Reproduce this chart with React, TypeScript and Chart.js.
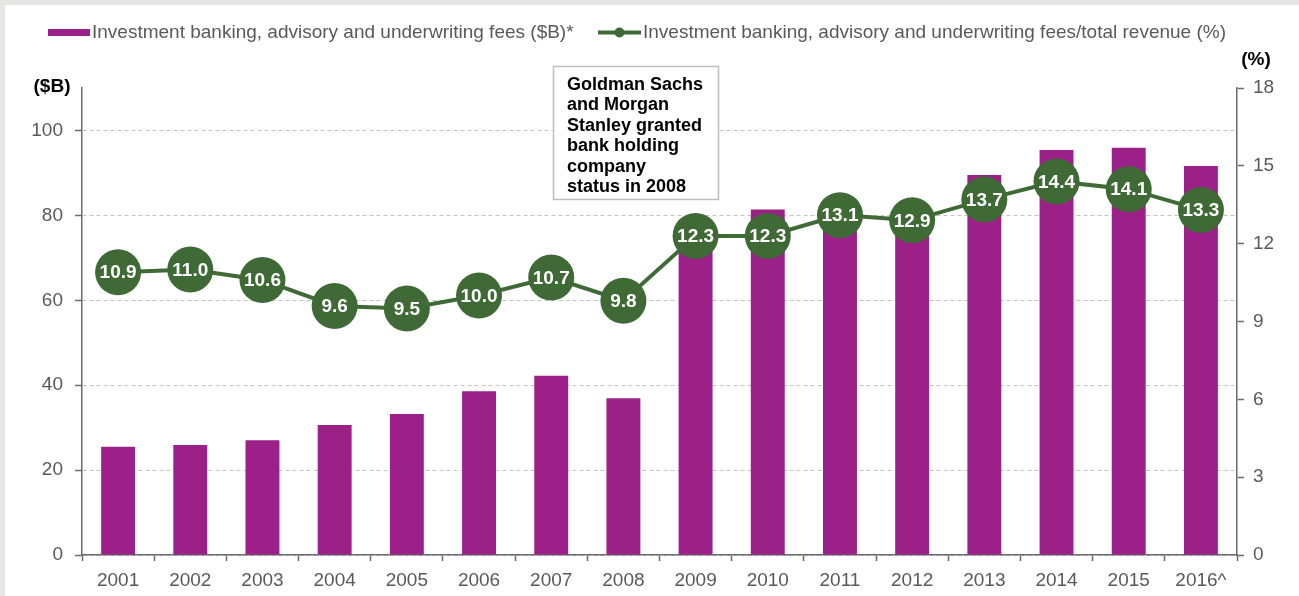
import React, { useEffect, useRef } from "react";
import { Chart, registerables } from "chart.js";

Chart.register(...registerables);

const years = ["2001", "2002", "2003", "2004", "2005", "2006", "2007", "2008", "2009", "2010", "2011", "2012", "2013", "2014", "2015", "2016^"];
const feesBn = [25.5, 25.9, 27.0, 30.6, 33.2, 38.6, 42.2, 36.9, 78.8, 81.4, 80.0, 78.5, 89.5, 95.4, 95.9, 91.6];
const feeSharePct = [10.9, 11.0, 10.6, 9.6, 9.5, 10.0, 10.7, 9.8, 12.3, 12.3, 13.1, 12.9, 13.7, 14.4, 14.1, 13.3];
const leftAxisMax = 110;
const leftTickStep = 20;
const leftTickTop = 100;
const rightAxisMax = 18;
const rightTickStep = 3;
const barLegend = "Investment banking, advisory and underwriting fees ($B)*";
const lineLegend = "Investment banking, advisory and underwriting fees/total revenue (%)";
const leftAxisTitle = "($B)";
const rightAxisTitle = "(%)";
const noteLines = ["Goldman Sachs", "and Morgan", "Stanley granted", "bank holding", "company", "status in 2008"];

const FONT = "'Liberation Sans', Arial, Helvetica, sans-serif";
const PURPLE = "#9b2188";
const GREEN = "#3f6a35";
const GREY_TEXT = "#595959";
const AXIS = "#6b6b6b";
const PAGE_BG = "#e4e6e4";

const decorPlugin = {
  id: "decor",
  beforeDraw(chart: any) {
    const { ctx, width, height } = chart;
    ctx.save();
    ctx.fillStyle = PAGE_BG;
    ctx.fillRect(0, 0, width, height);
    ctx.fillStyle = "#ffffff";
    ctx.fillRect(5, 5, width - 5, height - 5);
    ctx.restore();
  },
  afterDatasetsDraw(chart: any) {
    const { ctx } = chart;
    const meta = chart.getDatasetMeta(1);
    ctx.save();
    ctx.fillStyle = "#ffffff";
    ctx.font = `bold 19px ${FONT}`;
    ctx.textAlign = "center";
    ctx.textBaseline = "middle";
    meta.data.forEach((pt: any, i: number) => {
      ctx.fillText(feeSharePct[i].toFixed(1), pt.x, pt.y + 1);
    });
    ctx.restore();
  },
  afterDraw(chart: any) {
    const { ctx } = chart;
    ctx.save();
    // legend
    ctx.fillStyle = PURPLE;
    ctx.fillRect(48, 29, 42, 7);
    ctx.fillStyle = GREY_TEXT;
    ctx.font = `19px ${FONT}`;
    ctx.textAlign = "left";
    ctx.textBaseline = "middle";
    ctx.fillText(barLegend, 92, 33);
    ctx.strokeStyle = GREEN;
    ctx.lineWidth = 4;
    ctx.beginPath();
    ctx.moveTo(598, 32.5);
    ctx.lineTo(641, 32.5);
    ctx.stroke();
    ctx.fillStyle = GREEN;
    ctx.beginPath();
    ctx.arc(619.5, 32.5, 5, 0, Math.PI * 2);
    ctx.fill();
    ctx.fillStyle = GREY_TEXT;
    ctx.fillText(lineLegend, 643, 33);

    // axis titles
    ctx.fillStyle = "#000000";
    ctx.font = `bold 19px ${FONT}`;
    ctx.textAlign = "center";
    ctx.fillText(leftAxisTitle, 52, 87);
    ctx.fillText(rightAxisTitle, 1256, 60);

    // note box
    ctx.fillStyle = "#ffffff";
    ctx.fillRect(553, 66, 165, 133);
    ctx.strokeStyle = "#bfbfbf";
    ctx.lineWidth = 1.5;
    ctx.strokeRect(553.5, 66.5, 165, 133);
    ctx.fillStyle = "#000000";
    ctx.font = `bold 18px ${FONT}`;
    ctx.textAlign = "left";
    noteLines.forEach((line, i) => {
      ctx.fillText(line, 567, 85 + i * 20.4);
    });
    ctx.restore();
  },
};

export default function App() {
  const canvasRef = useRef<HTMLCanvasElement | null>(null);

  useEffect(() => {
    const canvas = canvasRef.current;
    if (!canvas) return;
    const tickFont = { family: FONT, size: 19 };
    const chart = new Chart(canvas, {
      type: "bar",
      data: {
        labels: years,
        datasets: [
          {
            type: "bar",
            label: barLegend,
            data: feesBn,
            backgroundColor: PURPLE,
            barPercentage: 0.47,
            categoryPercentage: 1,
            yAxisID: "y",
            order: 1,
          } as any,
          {
            type: "line",
            label: lineLegend,
            data: feeSharePct,
            borderColor: GREEN,
            borderWidth: 4,
            backgroundColor: GREEN,
            pointRadius: 23,
            pointHoverRadius: 23,
            pointBackgroundColor: GREEN,
            pointBorderWidth: 0,
            tension: 0,
            yAxisID: "y1",
            order: 0,
          } as any,
        ],
      },
      options: {
        responsive: false,
        animation: false,
        devicePixelRatio: 1,
        layout: { padding: { top: 88, left: 0, right: 0, bottom: 0 } },
        plugins: {
          legend: { display: false },
          tooltip: { enabled: false },
        },
        scales: {
          x: {
            offset: true,
            grid: {
              offset: true,
              drawOnChartArea: false,
              tickLength: 6,
              tickColor: AXIS,
              tickWidth: 1.5,
            },
            border: { color: AXIS, width: 1.5 },
            ticks: { color: GREY_TEXT, font: tickFont, padding: 8, maxRotation: 0, autoSkip: false },
            afterFit: (s: any) => {
              s.height = 41;
            },
          },
          y: {
            position: "left",
            min: 0,
            max: leftAxisMax,
            ticks: { stepSize: leftTickStep, color: GREY_TEXT, font: tickFont, padding: 12 },
            afterBuildTicks: (s: any) => {
              s.ticks = s.ticks.filter((t: any) => t.value <= leftTickTop);
            },
            grid: { color: "#c4c4c4", lineWidth: 1, tickColor: AXIS, tickLength: 7, tickWidth: 1.5 },
            border: { color: AXIS, width: 1.5, dash: [4, 3] },
            afterFit: (s: any) => {
              s.width = 82;
            },
          },
          y1: {
            position: "right",
            min: 0,
            max: rightAxisMax,
            ticks: { stepSize: rightTickStep, color: GREY_TEXT, font: tickFont, padding: 9 },
            grid: { drawOnChartArea: false, tickColor: AXIS, tickLength: 7, tickWidth: 1.5 },
            border: { color: AXIS, width: 1.5 },
            afterFit: (s: any) => {
              s.width = 62;
            },
          },
        },
      } as any,
      plugins: [decorPlugin],
    });
    return () => chart.destroy();
  }, []);

  return (
    <div style={{ position: "fixed", left: 0, top: 0, width: 1299, height: 596, overflow: "hidden" }}>
      <canvas ref={canvasRef} width={1299} height={596} style={{ display: "block" }} />
    </div>
  );
}
